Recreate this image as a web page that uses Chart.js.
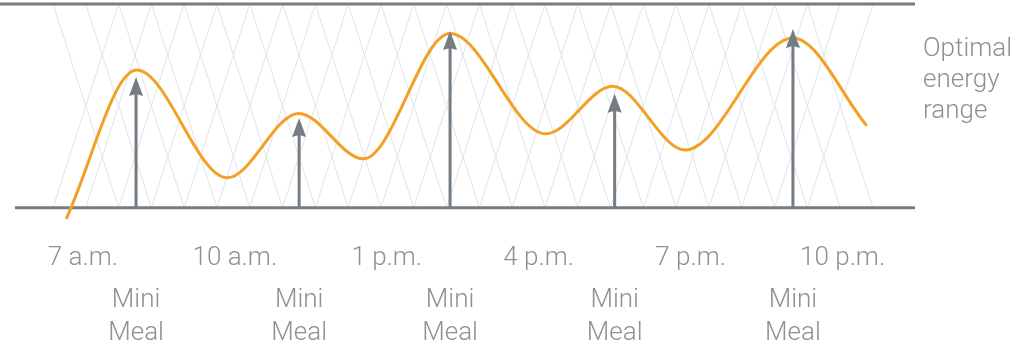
<!DOCTYPE html>
<html>
<head>
<meta charset="utf-8">
<script src="https://cdn.jsdelivr.net/npm/chart.js@4/dist/chart.umd.min.js"></script>
<style>
  html, body { margin: 0; padding: 0; background: #fff; overflow: hidden; }
  #wrap { width: 1029px; height: 345px; }
</style>
</head>
<body>
<div id="wrap"><canvas id="c" width="1029" height="345"></canvas></div>
<script>
// x: hour of the day (24h clock); y: energy level, 0 = bottom and 100 = top of the optimal range
const energyHours  = [6.67, 8.06, 9.85, 11.26, 12.54, 14.25, 16.14, 17.46, 18.89, 21.02, 22.48];
const energyLevels = [-5.4, 67.6, 14.7, 46.3, 24.0, 85.5, 36.3, 59.6, 28.4, 83.3, 40.2];

const mealHours     = [8.05, 11.27, 14.25, 17.5, 21.02];
const mealArrowTops = [64.2, 44.1, 86.8, 55.9, 87.7];
const mealLabels    = [['Mini', 'Meal'], ['Mini', 'Meal'], ['Mini', 'Meal'], ['Mini', 'Meal'], ['Mini', 'Meal']];

const timeTicks  = [7, 10, 13, 16, 19, 22];
const timeLabels = ['7 a.m.', '10 a.m.', '1 p.m.', '4 p.m.', '7 p.m.', '10 p.m.'];

const rangeLow = 0;
const rangeHigh = 100;
const rangeLabel = ['Optimal', 'energy', 'range'];

// diamond lattice filling the optimal band
const latticeFrom = 6.41;
const latticeTo = 22.60;
const latticeCells = 25;

const TEXT = '#8b9197';
const RULE = '#747c84';
const ORANGE = '#f2a126';
const FONT = { family: 'Roboto, "Open Sans", sans-serif', size: 26, weight: '300' };

const bandPlugin = {
  id: 'energyBand',
  beforeDatasetsDraw(chart) {
    const { ctx, chartArea, scales: { x, y } } = chart;
    const yTop = y.getPixelForValue(rangeHigh);
    const yBot = y.getPixelForValue(rangeLow);
    const x0 = x.getPixelForValue(latticeFrom);
    const x1 = x.getPixelForValue(latticeTo);
    const step = (x1 - x0) / latticeCells;
    ctx.save();
    ctx.strokeStyle = '#e0e3e7';
    ctx.lineWidth = 1;
    ctx.beginPath();
    for (let k = 0; k <= latticeCells - 2; k++) {
      ctx.moveTo(x0 + k * step, yTop);
      ctx.lineTo(x0 + (k + 2) * step, yBot);
      ctx.moveTo(x0 + (k + 2) * step, yTop);
      ctx.lineTo(x0 + k * step, yBot);
    }
    ctx.stroke();

    ctx.strokeStyle = RULE;
    ctx.lineWidth = 3;
    ctx.beginPath();
    ctx.moveTo(0, yTop);
    ctx.lineTo(chartArea.right, yTop);
    ctx.moveTo(chartArea.left, yBot);
    ctx.lineTo(chartArea.right, yBot);
    ctx.stroke();
    ctx.restore();
  },
  afterDatasetsDraw(chart) {
    const { ctx, scales: { x, y } } = chart;
    const yBot = y.getPixelForValue(rangeLow);
    ctx.save();
    ctx.strokeStyle = RULE;
    ctx.fillStyle = RULE;
    ctx.lineWidth = 3;
    mealHours.forEach((h, i) => {
      const px = x.getPixelForValue(h);
      const tip = y.getPixelForValue(mealArrowTops[i]);
      ctx.beginPath();
      ctx.moveTo(px, yBot);
      ctx.lineTo(px, tip + 14);
      ctx.stroke();
      ctx.beginPath();
      ctx.moveTo(px, tip);
      ctx.lineTo(px + 7, tip + 19);
      ctx.lineTo(px, tip + 17);
      ctx.lineTo(px - 7, tip + 19);
      ctx.closePath();
      ctx.fill();
    });
    ctx.restore();
  },
  afterDraw(chart) {
    const { ctx, chartArea, scales: { y } } = chart;
    const yTop = y.getPixelForValue(rangeHigh);
    ctx.save();
    ctx.fillStyle = TEXT;
    ctx.font = `${FONT.weight} ${FONT.size}px ${FONT.family}`;
    ctx.textAlign = 'left';
    ctx.textBaseline = 'alphabetic';
    rangeLabel.forEach((t, i) => ctx.fillText(t, chartArea.right + 8, yTop + 52 + i * 31));
    ctx.restore();
  }
};

new Chart(document.getElementById('c'), {
  type: 'line',
  data: {
    datasets: [{
      data: energyHours.map((h, i) => ({ x: h, y: energyLevels[i] })),
      borderColor: ORANGE,
      borderWidth: 3,
      pointRadius: 0,
      fill: false,
      cubicInterpolationMode: 'monotone',
      clip: false
    }]
  },
  options: {
    responsive: false,
    devicePixelRatio: 1,
    animation: false,
    layout: { padding: { top: 4, left: 15, right: 114, bottom: 0 } },
    plugins: { legend: { display: false }, tooltip: { enabled: false } },
    scales: {
      x: {
        type: 'linear',
        position: 'bottom',
        weight: 0,
        min: 5.66,
        max: 23.43,
        grid: { display: false, drawTicks: false },
        border: { display: false },
        afterBuildTicks: (s) => { s.ticks = timeTicks.map(v => ({ value: v })); },
        afterFit: (s) => { s.height = 60; },
        ticks: {
          autoSkip: false, maxRotation: 0, minRotation: 0, padding: 23,
          color: TEXT, font: FONT,
          callback: (v, i) => timeLabels[i]
        }
      },
      x2: {
        type: 'linear',
        position: 'bottom',
        weight: 1,
        min: 5.66,
        max: 23.43,
        grid: { display: false, drawTicks: false },
        border: { display: false },
        afterBuildTicks: (s) => { s.ticks = mealHours.map(v => ({ value: v })); },
        afterFit: (s) => { s.height = 65; },
        ticks: {
          autoSkip: false, maxRotation: 0, minRotation: 0, padding: 4,
          color: TEXT, font: Object.assign({}, FONT, { lineHeight: 1.27 }),
          callback: (v, i) => mealLabels[i]
        }
      },
      y: { display: false, min: -6, max: 100 }
    }
  },
  plugins: [bandPlugin]
});
</script>
</body>
</html>
